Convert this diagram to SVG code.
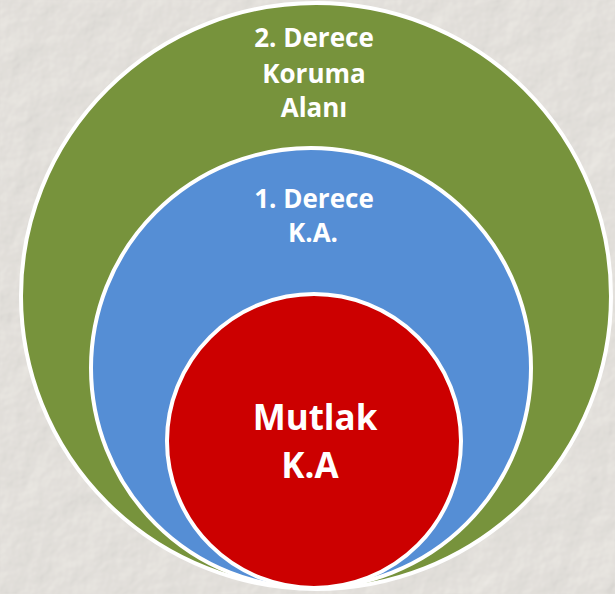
<svg xmlns="http://www.w3.org/2000/svg" width="615" height="594" viewBox="0 0 615 594">
<defs>
<filter id="paper" x="0" y="0" width="100%" height="100%">
<feTurbulence type="fractalNoise" baseFrequency="0.025" numOctaves="4" seed="3" result="n"/>
<feDiffuseLighting in="n" lighting-color="#f1eee9" surfaceScale="1.5" result="l">
<feDistantLight azimuth="225" elevation="60"/>
</feDiffuseLighting>
<feComposite in="l" in2="SourceGraphic" operator="in"/>
</filter>
</defs>
<style>
.ring{stroke:#ffffff;stroke-width:4}
.lbl{font-family:"Open Sans","Liberation Sans",sans-serif;font-weight:bold;fill:#ffffff;text-anchor:middle}
.s{font-size:26px}
.b{font-size:35px}
</style>
<rect x="0" y="0" width="615" height="594" fill="#ebe8e3"/>
<rect x="0" y="0" width="615" height="594" fill="#ebe8e3" filter="url(#paper)" opacity="0.9"/>
<g id="outer">
<ellipse class="ring" cx="316" cy="296" rx="295" ry="293" fill="#77933c"/>
<text class="lbl s" x="314" y="47">2. Derece</text>
<text class="lbl s" x="314" y="83">Koruma</text>
<text class="lbl s" x="314" y="117">Alanı</text>
</g>
<g id="middle">
<circle class="ring" cx="311" cy="368" r="220" fill="#558ed5"/>
<text class="lbl s" x="314" y="208">1. Derece</text>
<text class="lbl s" x="313" y="242">K.A.</text>
</g>
<g id="inner">
<circle class="ring" cx="314" cy="441" r="147" fill="#cc0000"/>
<text class="lbl b" x="315" y="430">Mutlak</text>
<text class="lbl b" x="310" y="478">K.A</text>
</g>
<g id="connectors"/>
</svg>
